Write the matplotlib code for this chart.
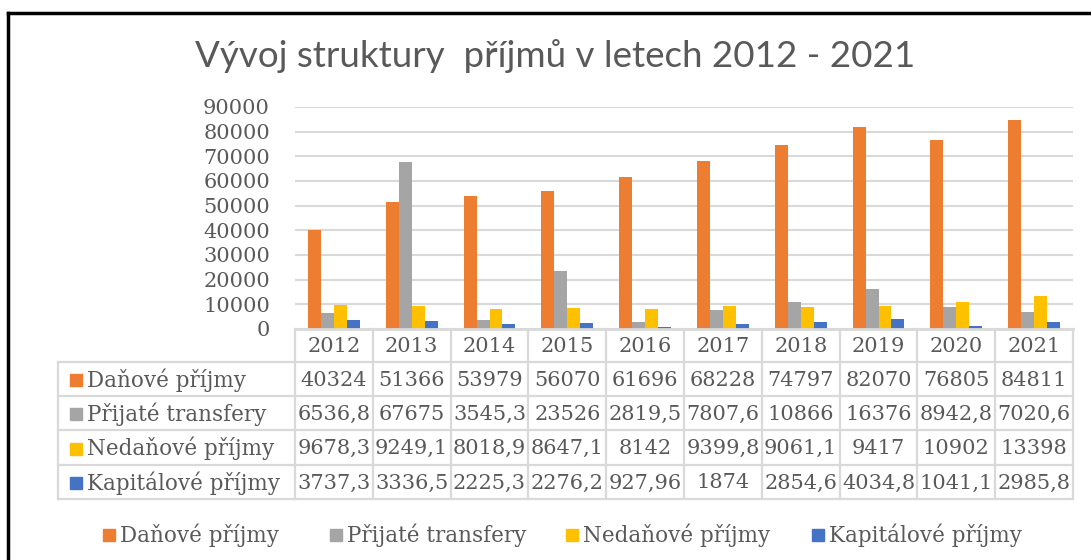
import numpy as np
import matplotlib
matplotlib.use("Agg")
import matplotlib.pyplot as plt
from matplotlib.lines import Line2D
from matplotlib.patches import Rectangle

# ---- data ----
years = ["2012", "2013", "2014", "2015", "2016", "2017", "2018", "2019", "2020", "2021"]
series_names = ["Daňové příjmy", "Přijaté transfery", "Nedaňové příjmy", "Kapitálové příjmy"]
danove = [40324, 51366, 53979, 56070, 61696, 68228, 74797, 82070, 76805, 84811]
prijate = [6536.8, 67675, 3545.3, 23526, 2819.5, 7807.6, 10866, 16376, 8942.8, 7020.6]
nedanove = [9678.3, 9249.1, 8018.9, 8647.1, 8142, 9399.8, 9061.1, 9417, 10902, 13398]
kapitalove = [3737.3, 3336.5, 2225.3, 2276.2, 927.96, 1874, 2854.6, 4034.8, 1041.1, 2985.8]
yticks = [0, 10000, 20000, 30000, 40000, 50000, 60000, 70000, 80000, 90000]
title = "Vývoj struktury  příjmů v letech 2012 - 2021"

colors = ["#ED7D31", "#A5A5A5", "#FFC000", "#4472C4"]
series = [danove, prijate, nedanove, kapitalove]
TXT = "#595959"
GRID = "#d9d9d9"
SERIF = "DejaVu Serif"

W, H = 1091, 560
fig = plt.figure(figsize=(W / 100, H / 100), dpi=100)
fig.patch.set_facecolor("white")

def fx(x):
    return x / W

def fy(y):
    return 1 - y / H

# axes geometry (pixels)
ax_l, ax_r, ax_t, ax_b = 295, 1073, 107, 329
ax = fig.add_axes([fx(ax_l), fy(ax_b), fx(ax_r - ax_l), (ax_b - ax_t) / H])

n = len(years)
x = np.arange(n)
bw = 0.167
for i, (vals, c) in enumerate(zip(series, colors)):
    ax.bar(x + (i - 1.5) * bw, vals, width=bw, color=c, zorder=3, label=series_names[i])

ax.set_xlim(-0.5, n - 0.5)
ax.set_ylim(0, 90000)
ax.set_yticks(yticks)
ax.set_yticklabels([str(t) for t in yticks], fontfamily=SERIF, fontsize=15, color=TXT)
ax.tick_params(axis="y", length=0, pad=18)
ax.set_xticks([])
ax.grid(axis="y", color=GRID, linewidth=1.5, zorder=0)
for s in ax.spines.values():
    s.set_visible(False)

# ---- data table ----
col_w = (ax_r - ax_l) / n
tab_left = 58
row_lines = [329, 362, 396, 430, 465, 499]

def hline(y, x0, x1, lw=1.6):
    fig.add_artist(Line2D([fx(x0), fx(x1)], [fy(y), fy(y)], color=GRID, lw=lw,
                          transform=fig.transFigure))

def vline(x, y0, y1, lw=1.6):
    fig.add_artist(Line2D([fx(x), fx(x)], [fy(y0), fy(y1)], color=GRID, lw=lw,
                          transform=fig.transFigure))

hline(row_lines[0], ax_l, ax_r, lw=2)
for y in row_lines[1:]:
    hline(y, tab_left, ax_r)
vline(tab_left, row_lines[1], row_lines[-1])
for k in range(n + 1):
    vline(ax_l + k * col_w, row_lines[0], row_lines[-1])

# header
for k, yr in enumerate(years):
    fig.text(fx(ax_l + (k + 0.5) * col_w), fy((row_lines[0] + row_lines[1]) / 2 + 1), yr,
             ha="center", va="center", fontfamily=SERIF, fontsize=15, color=TXT)

def fmt(v):
    return f"{v:g}".replace(".", ",")

for r, (name, vals, c) in enumerate(zip(series_names, series, colors)):
    yc = (row_lines[r + 1] + row_lines[r + 2]) / 2 + 1
    fig.add_artist(Rectangle((fx(70), fy(yc + 6)), 12 / W, 12 / H, color=c,
                             transform=fig.transFigure))
    fig.text(fx(87), fy(yc), name, ha="left", va="center", fontfamily=SERIF,
             fontsize=15.5, color=TXT)
    for k, v in enumerate(vals):
        fig.text(fx(ax_l + (k + 0.5) * col_w), fy(yc), fmt(v), ha="center", va="center",
                 fontfamily=SERIF, fontsize=15, color=TXT)

# ---- legend ----
leg_x = [103, 330, 566, 812]
leg_y = 535
for lx, name, c in zip(leg_x, series_names, colors):
    fig.add_artist(Rectangle((fx(lx), fy(leg_y + 6)), 12 / W, 12 / H, color=c,
                             transform=fig.transFigure))
    fig.text(fx(lx + 17), fy(leg_y), name, ha="left", va="center", fontfamily=SERIF,
             fontsize=15.5, color=TXT)

# ---- title ----
fig.text(fx(555), fy(56), title, ha="center", va="center", fontfamily="Lato",
         fontsize=26.5, color=TXT)

# ---- frame (top and left border) ----
fig.add_artist(Line2D([fx(8), fx(W)], [fy(13), fy(13)], color="black", lw=2.5,
                      transform=fig.transFigure))
fig.add_artist(Line2D([fx(8), fx(8)], [fy(13), fy(H)], color="black", lw=2.5,
                      transform=fig.transFigure))

fig.savefig("out.png", dpi=100, facecolor="white")
